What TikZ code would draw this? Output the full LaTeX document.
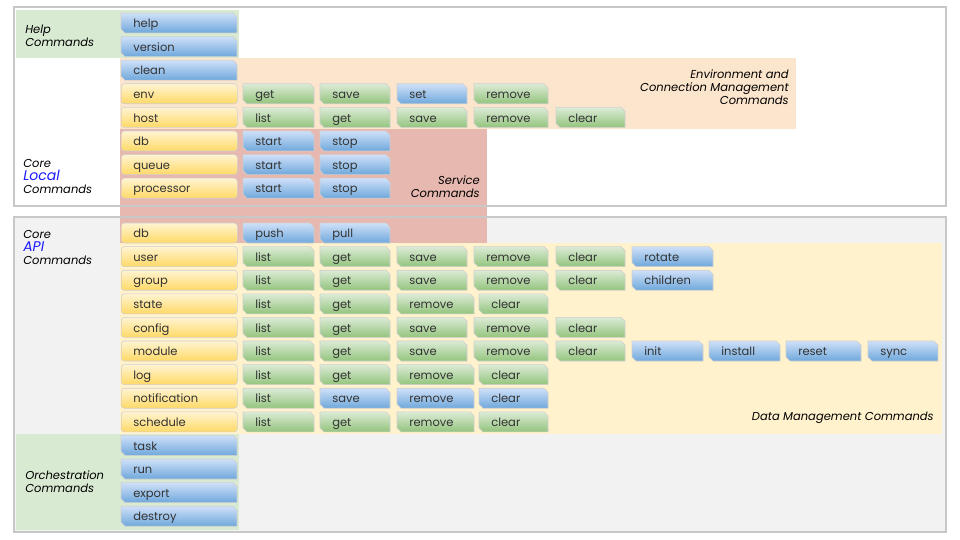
\documentclass[tikz,border=0pt]{standalone}
\usepackage{fontspec}
\usepackage{tikz}
\setmainfont{Poppins}
\definecolor{boxedge}{HTML}{C8C8C8}
\definecolor{apigray}{HTML}{F2F2F2}
\definecolor{helpgreen}{HTML}{D9EAD3}
\definecolor{envorange}{HTML}{FCE5CD}
\definecolor{svcred}{HTML}{E6B8AF}
\definecolor{datayellow}{HTML}{FFF2CC}
\definecolor{btnedge}{HTML}{CFCFCF}
\definecolor{ytop}{HTML}{FFF4D2}
\definecolor{ybot}{HTML}{FFD966}
\definecolor{gtop}{HTML}{DCEBD6}
\definecolor{gbot}{HTML}{93C47D}
\definecolor{btop}{HTML}{CFE0F8}
\definecolor{bbot}{HTML}{6FA8DC}
\definecolor{inkgray}{HTML}{333333}
\definecolor{localblue}{HTML}{1A1AFF}

% name, shading, x, y, width, text
\newcommand\cmdbtn[6]{%
  \shadedraw[#2] (#3,#4-10) -- ++(#5-4,0) -- ++(4,4) -- ++(0,16) -- ++(-#5+4,0) -- ++(-4,-4) -- cycle;
  \node[cmdtext, text width=#5pt-24pt] (#1) at (#3,#4) {#6};}

\begin{document}
\begin{tikzpicture}[x=1pt, y=-1pt, line width=0.6pt,
    cmdtext/.style={anchor=west, inner xsep=12pt, inner ysep=0pt, minimum height=20pt, text height=11pt, text depth=1.5pt, align=left, text=inkgray, font=\fontsize{11.5}{13}\selectfont},
    ybtn/.style={cmdtext, text width=92pt, draw=btnedge, rounded corners=3pt, top color=ytop, bottom color=ybot},
    gshade/.style={draw=btnedge, top color=gtop, bottom color=gbot},
    bshade/.style={draw=btnedge, top color=btop, bottom color=bbot},
    grouplabel/.style={font=\itshape\fontsize{11.5}{13}\selectfont, text=black, inner sep=0pt},
    outerbox/.style={draw=boxedge, line width=1.3pt}]
    \useasboundingbox (0,0) rectangle (960,540);
    \fill[white] (0,0) rectangle (960,540);
    \fill[white] (14,7) rectangle (946,206);
    \fill[apigray] (14,217) rectangle (946,532);
    \fill[helpgreen] (16,10) rectangle (239,58);
    \fill[envorange] (120,58) rectangle (796,129);
    \fill[svcred] (120,129) rectangle (487,243);
    \fill[datayellow] (120,243) rectangle (942,434);
    \fill[helpgreen] (16,434) rectangle (239,530);
    \draw[outerbox] (14,7) rectangle (946,206);
    \draw[outerbox] (14,217) rectangle (946,532);

    \cmdbtn{help}{bshade}{121}{23}{116}{help}
    \cmdbtn{version}{bshade}{121}{46.6}{116}{version}
    \cmdbtn{clean}{bshade}{121}{70.2}{116}{clean}

    \node[ybtn] (env) at (121,93.8) {env};
    \cmdbtn{env-get}{gshade}{243}{93.8}{71}{get}
    \cmdbtn{env-save}{gshade}{320}{93.8}{70}{save}
    \cmdbtn{env-set}{bshade}{397}{93.8}{70}{set}
    \cmdbtn{env-remove}{gshade}{474}{93.8}{74}{remove}

    \node[ybtn] (host) at (121,117.4) {host};
    \cmdbtn{host-list}{gshade}{243}{117.4}{71}{list}
    \cmdbtn{host-get}{gshade}{320}{117.4}{70}{get}
    \cmdbtn{host-save}{gshade}{397}{117.4}{70}{save}
    \cmdbtn{host-remove}{gshade}{474}{117.4}{74}{remove}
    \cmdbtn{host-clear}{gshade}{556}{117.4}{69}{clear}

    \node[ybtn] (dbsvc) at (121,141) {db};
    \cmdbtn{dbsvc-start}{bshade}{243}{141}{71}{start}
    \cmdbtn{dbsvc-stop}{bshade}{320}{141}{70}{stop}

    \node[ybtn] (queue) at (121,164.6) {queue};
    \cmdbtn{queue-start}{bshade}{243}{164.6}{71}{start}
    \cmdbtn{queue-stop}{bshade}{320}{164.6}{70}{stop}

    \node[ybtn] (processor) at (121,188.2) {processor};
    \cmdbtn{processor-start}{bshade}{243}{188.2}{71}{start}
    \cmdbtn{processor-stop}{bshade}{320}{188.2}{70}{stop}

    \node[ybtn] (dbapi) at (121,233) {db};
    \cmdbtn{dbapi-push}{bshade}{243}{233}{71}{push}
    \cmdbtn{dbapi-pull}{bshade}{320}{233}{70}{pull}

    \node[ybtn] (user) at (121,256.6) {user};
    \cmdbtn{user-list}{gshade}{243}{256.6}{71}{list}
    \cmdbtn{user-get}{gshade}{320}{256.6}{70}{get}
    \cmdbtn{user-save}{gshade}{397}{256.6}{70}{save}
    \cmdbtn{user-remove}{gshade}{474}{256.6}{74}{remove}
    \cmdbtn{user-clear}{gshade}{556}{256.6}{69}{clear}
    \cmdbtn{user-rotate}{bshade}{632}{256.6}{81}{rotate}

    \node[ybtn] (group) at (121,280.2) {group};
    \cmdbtn{group-list}{gshade}{243}{280.2}{71}{list}
    \cmdbtn{group-get}{gshade}{320}{280.2}{70}{get}
    \cmdbtn{group-save}{gshade}{397}{280.2}{70}{save}
    \cmdbtn{group-remove}{gshade}{474}{280.2}{74}{remove}
    \cmdbtn{group-clear}{gshade}{556}{280.2}{69}{clear}
    \cmdbtn{group-children}{bshade}{632}{280.2}{81}{children}

    \node[ybtn] (state) at (121,303.8) {state};
    \cmdbtn{state-list}{gshade}{243}{303.8}{71}{list}
    \cmdbtn{state-get}{gshade}{320}{303.8}{70}{get}
    \cmdbtn{state-remove}{gshade}{397}{303.8}{77}{remove}
    \cmdbtn{state-clear}{gshade}{479}{303.8}{69}{clear}

    \node[ybtn] (config) at (121,327.4) {config};
    \cmdbtn{config-list}{gshade}{243}{327.4}{71}{list}
    \cmdbtn{config-get}{gshade}{320}{327.4}{70}{get}
    \cmdbtn{config-save}{gshade}{397}{327.4}{70}{save}
    \cmdbtn{config-remove}{gshade}{474}{327.4}{74}{remove}
    \cmdbtn{config-clear}{gshade}{556}{327.4}{69}{clear}

    \node[ybtn] (module) at (121,351) {module};
    \cmdbtn{module-list}{gshade}{243}{351}{71}{list}
    \cmdbtn{module-get}{gshade}{320}{351}{70}{get}
    \cmdbtn{module-save}{gshade}{397}{351}{70}{save}
    \cmdbtn{module-remove}{gshade}{474}{351}{74}{remove}
    \cmdbtn{module-clear}{gshade}{556}{351}{69}{clear}
    \cmdbtn{module-init}{bshade}{632}{351}{71}{init}
    \cmdbtn{module-install}{bshade}{709}{351}{71}{install}
    \cmdbtn{module-reset}{bshade}{786}{351}{75}{reset}
    \cmdbtn{module-sync}{bshade}{868}{351}{70}{sync}

    \node[ybtn] (log) at (121,374.6) {log};
    \cmdbtn{log-list}{gshade}{243}{374.6}{71}{list}
    \cmdbtn{log-get}{gshade}{320}{374.6}{70}{get}
    \cmdbtn{log-remove}{gshade}{397}{374.6}{77}{remove}
    \cmdbtn{log-clear}{gshade}{479}{374.6}{69}{clear}

    \node[ybtn] (notification) at (121,398.2) {notification};
    \cmdbtn{notification-list}{gshade}{243}{398.2}{71}{list}
    \cmdbtn{notification-save}{bshade}{320}{398.2}{70}{save}
    \cmdbtn{notification-remove}{bshade}{397}{398.2}{77}{remove}
    \cmdbtn{notification-clear}{bshade}{479}{398.2}{69}{clear}

    \node[ybtn] (schedule) at (121,421.8) {schedule};
    \cmdbtn{schedule-list}{gshade}{243}{421.8}{71}{list}
    \cmdbtn{schedule-get}{gshade}{320}{421.8}{70}{get}
    \cmdbtn{schedule-remove}{gshade}{397}{421.8}{77}{remove}
    \cmdbtn{schedule-clear}{gshade}{479}{421.8}{69}{clear}

    \cmdbtn{task}{bshade}{121}{445.4}{116}{task}
    \cmdbtn{run}{bshade}{121}{469}{116}{run}
    \cmdbtn{export}{bshade}{121}{492.6}{116}{export}
    \cmdbtn{destroy}{bshade}{121}{516.2}{116}{destroy}

    \node[grouplabel, anchor=west, align=left] (helplbl) at (25,35.5) {Help\\Commands};
    \node[grouplabel, anchor=west, align=left] (locallbl) at (23,176) {Core\\{\fontsize{14}{16}\selectfont\color{localblue}Local}\\Commands};
    \node[grouplabel, anchor=west, align=left] (apilbl) at (23,247.5) {Core\\{\fontsize{14}{16}\selectfont\color{localblue}API}\\Commands};
    \node[grouplabel, anchor=west, align=left] (orchlbl) at (25,481.5) {Orchestration\\Commands};
    \node[grouplabel, anchor=east, align=right] (envlbl) at (789,87) {Environment and\\Connection Management\\Commands};
    \node[grouplabel, anchor=east, align=right] (svclbl) at (480,186.5) {Service\\Commands};
    \node[grouplabel, anchor=east] (datalbl) at (934,418) {Data Management Commands};
  \end{tikzpicture}
\end{document}
